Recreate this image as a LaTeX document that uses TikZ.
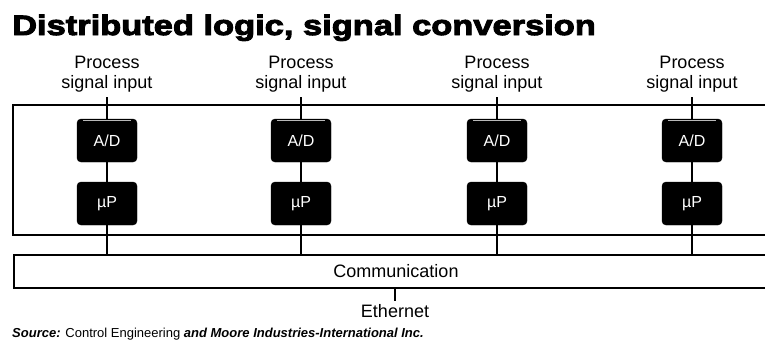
\documentclass[tikz,border=0pt]{standalone}
\usepackage{fontspec}
\setmainfont{Liberation Sans}
\newfontfamily\headfont[FakeBold=3.5, FakeStretch=1.23]{Liberation Sans Bold}
\begin{document}
\begin{tikzpicture}[x=1pt,y=-1pt,
  frame/.style={line width=2pt},
  wire/.style={line width=1.4pt},
  chip/.style={fill=black, draw=black, rounded corners=4pt,
    minimum width=60pt, minimum height=43pt, inner sep=0pt,
    text=white, font=\fontsize{16}{16}\selectfont},
  lbl/.style={align=center, inner sep=0pt, font=\fontsize{18}{20}\selectfont},
]
\clip (0,0) rectangle (765,343);

% heading
\node[anchor=base west, inner sep=0pt, font=\fontsize{28}{28}\headfont]
  (title) at (12,35) {Distributed logic, signal conversion};

% device frame, open to the right
\draw[frame] (780,104.5) -- (13,104.5) -- (13,235) -- (780,235);

% communication bar
\node[draw, frame, anchor=north west, minimum width=764pt, minimum height=33pt,
  inner sep=0pt, font=\fontsize{18}{18}\selectfont] (comm) at (13,254) {Communication};

% four signal chains
\foreach \i/\x in {1/107,2/301,3/497,4/692} {
  \node[lbl, anchor=south] (in\i) at (\x,92) {Process\\signal input};
  \node[chip] (ad\i) at (\x,140.5) {A/D};
  \node[chip] (up\i) at (\x,203.5) {µP};
  \draw[gray!55, line width=1pt] ([xshift=6pt,yshift=-2pt]ad\i.north west) -- ([xshift=-6pt,yshift=-2pt]ad\i.north east);
  \draw[wire] ([yshift=-5pt]in\i.south) -- (ad\i.north);
  \draw[wire] (ad\i.south) -- (up\i.north);
  \draw[wire] (up\i.south) -- (up\i.south |- comm.north);
}

% network link
\node[anchor=base, inner sep=0pt, font=\fontsize{18}{18}\selectfont] (eth) at (395,317) {Ethernet};
\draw[wire] (comm.south -| eth.north) -- ([yshift=3pt]eth.north);

% credit line
\node[anchor=base west, inner sep=0pt, font=\fontsize{13}{14}\selectfont] (src) at (12,337)
  {\textbf{\textit{Source:}} Control Engineering \textbf{\textit{and Moore Industries-International Inc.}}};
\end{tikzpicture}
\end{document}
